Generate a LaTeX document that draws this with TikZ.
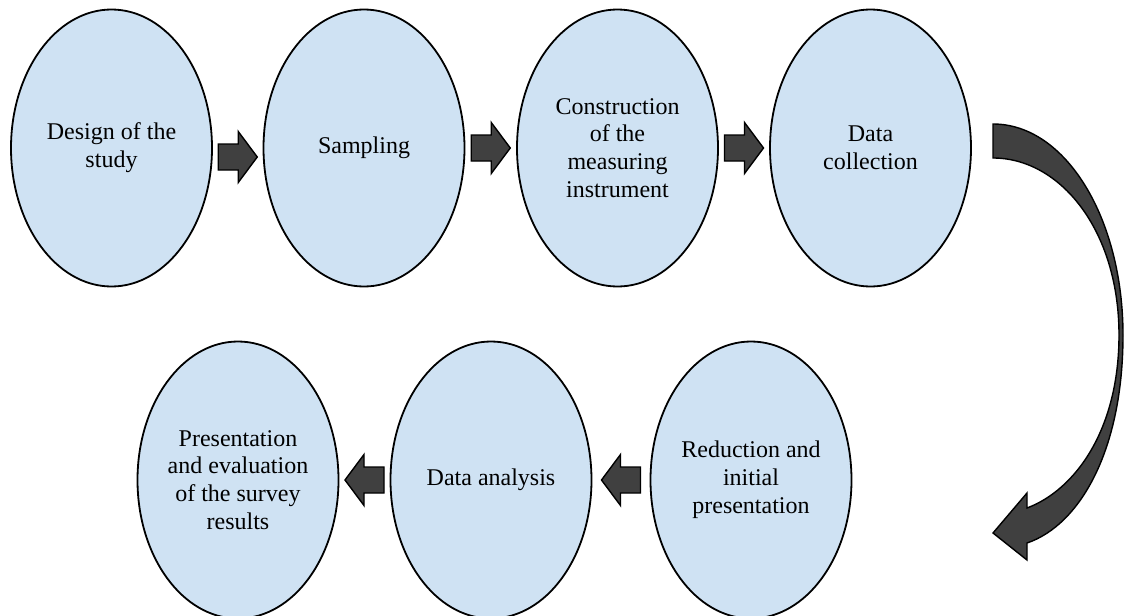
\documentclass[tikz,border=0pt]{standalone}
\usepackage{fontspec}
\setmainfont{Liberation Serif}
\definecolor{StepBlue}{RGB}{207,226,243}
\definecolor{ArrowGray}{RGB}{64,64,64}
\usetikzlibrary{shapes.geometric,calc}
\tikzset{
  stage/.style={ellipse,draw=black,line width=0.9pt,fill=StepBlue,
    minimum width=100.5pt,minimum height=138.5pt,inner sep=0pt,align=center,
    font=\fontsize{12}{13.9}\selectfont},
  arrowbody/.style={draw=black,fill=ArrowGray,line width=0.7pt,line join=miter},
  blockarrow/.pic={
    \draw[arrowbody] (-19.5,-13) -- (0.5,-13) -- (0.5,-25.5) -- (19.5,0)
      -- (0.5,25.5) -- (0.5,13) -- (-19.5,13) -- cycle;
  }
}
\begin{document}
\begin{tikzpicture}[x=0.5pt,y=-0.5pt]
  \useasboundingbox (0,0) rectangle (1125,616);
  % top row
  \node[stage] (design) at (111.5,148) {Design of the\\study};
  \node[stage] (sampling) at (364,148) {Sampling};
  \node[stage] (construct) at (617.5,148) {Construction\\of the\\measuring\\instrument};
  \node[stage] (collection) at (870.5,148) {Data\\collection};
  % bottom row
  \node[stage] (reduction) at (751,480) {Reduction and\\initial\\presentation};
  \node[stage] (analysis) at (491,480) {Data analysis};
  \node[stage] (results) at (238,480) {Presentation\\and evaluation\\of the survey\\results};
  % straight block arrows
  \pic at ($(design.east)!0.5!(sampling.west)+(0,9)$) {blockarrow};
  \pic at ($(sampling.east)!0.5!(construct.west)$) {blockarrow};
  \pic at ($(construct.east)!0.5!(collection.west)$) {blockarrow};
  \pic[rotate=180] at ($(reduction.west)!0.5!(analysis.east)$) {blockarrow};
  \pic[rotate=180] at ($(analysis.west)!0.5!(results.east)$) {blockarrow};
  % curved arrow down the right side
  \draw[arrowbody]
    (993,124) .. controls (1066,124) and (1123,219) .. (1123,335)
    .. controls (1123,450) and (1080,525) .. (1027,543)
    -- (1027,560) -- (993,533) -- (1027,493) -- (1027,508)
    .. controls (1075,490) and (1119,430) .. (1119,335)
    .. controls (1119,230) and (1060,158) .. (993,158) -- cycle;
\end{tikzpicture}
\end{document}
